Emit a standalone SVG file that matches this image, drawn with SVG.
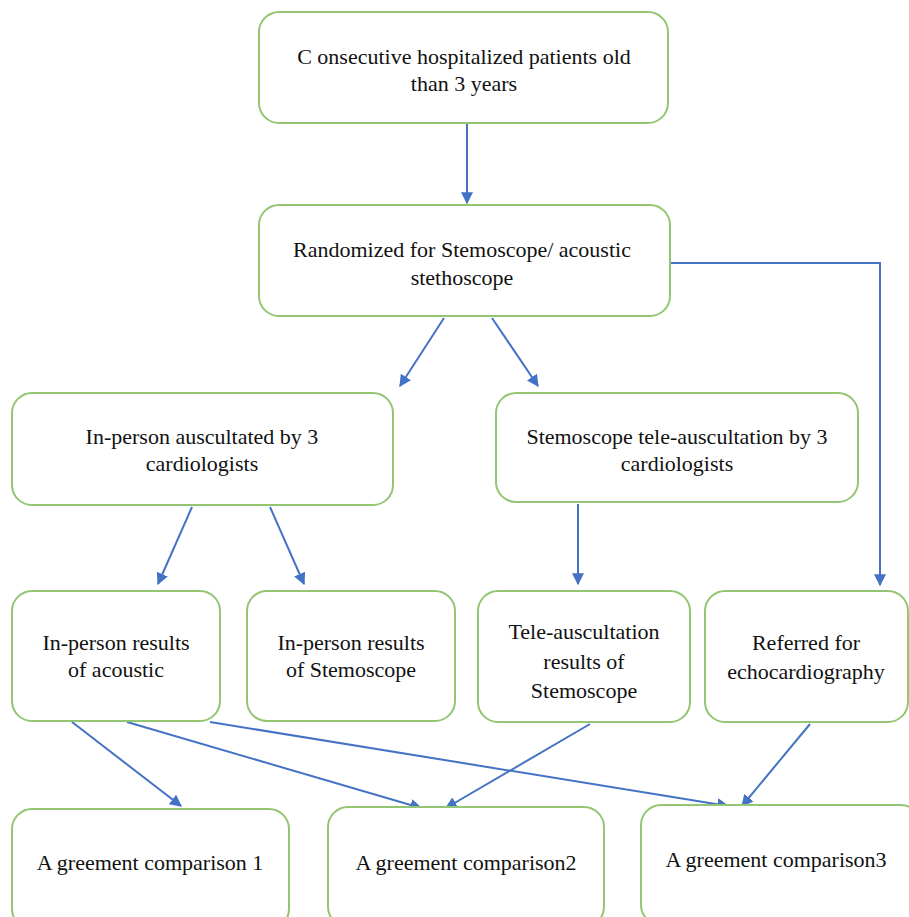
<svg xmlns="http://www.w3.org/2000/svg" width="909" height="917" viewBox="0 0 909 917">
<style>
.box{fill:#fff;stroke:#93C572;stroke-width:2}
.t{font-family:"Liberation Serif","Times New Roman","DejaVu Serif",serif;font-size:22px;fill:#111;text-anchor:middle}
.c{stroke:#4472C4;stroke-width:2;fill:none;marker-end:url(#ah)}
</style>
<defs>
<marker id="ah" viewBox="0 0 10 10" refX="9" refY="5" markerWidth="6" markerHeight="6" markerUnits="strokeWidth" orient="auto">
<path d="M0,0 L10,5 L0,10 z" fill="#4472C4"/>
</marker>
</defs>
<rect width="909" height="917" fill="#fff"/>
<g id="connectors">
<line class="c" x1="467" y1="124" x2="467" y2="203"/>
<line class="c" x1="444" y1="318" x2="400" y2="386"/>
<line class="c" x1="492" y1="318" x2="538" y2="386"/>
<polyline class="c" points="670,263 880,263 880,585"/>
<line class="c" x1="192" y1="507" x2="158" y2="584"/>
<line class="c" x1="270" y1="507" x2="304" y2="584"/>
<line class="c" x1="578" y1="504" x2="578" y2="584"/>
<line class="c" x1="72" y1="722" x2="181" y2="806"/>
<line class="c" x1="127" y1="722" x2="421" y2="808"/>
<line class="c" x1="210" y1="722" x2="728" y2="806"/>
<line class="c" x1="590" y1="724" x2="446" y2="808"/>
<line class="c" x1="810" y1="724" x2="742" y2="806"/>
</g>
<g id="n1"><rect class="box" x="259" y="12" width="409" height="111" rx="20"/>
<text class="t" x="464" y="64">C onsecutive hospitalized patients old</text>
<text class="t" x="464" y="91">than 3 years</text></g>
<g id="n2"><rect class="box" x="259" y="205" width="411" height="111" rx="20"/>
<text class="t" x="462" y="257">Randomized for Stemoscope/ acoustic</text>
<text class="t" x="462" y="285">stethoscope</text></g>
<g id="n3"><rect class="box" x="12" y="393" width="381" height="112" rx="20"/>
<text class="t" x="202" y="444">In-person auscultated by 3</text>
<text class="t" x="202" y="471">cardiologists</text></g>
<g id="n4"><rect class="box" x="496" y="393" width="362" height="109" rx="20"/>
<text class="t" x="677" y="444">Stemoscope tele-auscultation by 3</text>
<text class="t" x="677" y="471">cardiologists</text></g>
<g id="n5"><rect class="box" x="12" y="591" width="208" height="130" rx="20"/>
<text class="t" x="116" y="650">In-person results</text>
<text class="t" x="116" y="677">of acoustic</text></g>
<g id="n6"><rect class="box" x="247" y="591" width="208" height="130" rx="20"/>
<text class="t" x="351" y="650">In-person results</text>
<text class="t" x="351" y="677">of Stemoscope</text></g>
<g id="n7"><rect class="box" x="478" y="591" width="212" height="131" rx="20"/>
<text class="t" x="584" y="639">Tele-auscultation</text>
<text class="t" x="584" y="669">results of</text>
<text class="t" x="584" y="698">Stemoscope</text></g>
<g id="n8"><rect class="box" x="705" y="591" width="203" height="131" rx="20"/>
<text class="t" x="806" y="650">Referred for</text>
<text class="t" x="806" y="679">echocardiography</text></g>
<g id="n9"><rect class="box" x="12" y="809" width="277" height="120" rx="20"/>
<text class="t" x="150" y="870">A greement comparison 1</text></g>
<g id="n10"><rect class="box" x="328" y="807" width="276" height="120" rx="20"/>
<text class="t" x="466" y="870">A greement comparison2</text></g>
<g id="n11"><rect class="box" x="641" y="805" width="280" height="120" rx="20"/>
<text class="t" x="776" y="867">A greement comparison3</text></g>
</svg>
